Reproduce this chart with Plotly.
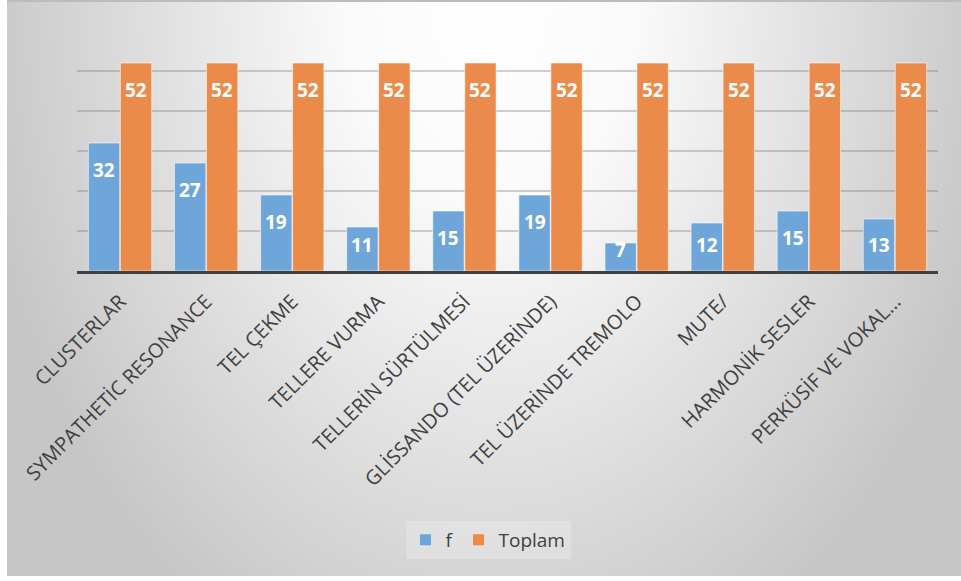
import base64
import plotly.graph_objects as go

# Techniques and counts
categories = [
    "CLUSTERLAR",
    "SYMPATHETİC RESONANCE",
    "TEL ÇEKME",
    "TELLERE VURMA",
    "TELLERİN SÜRTÜLMESİ",
    "GLİSSANDO (TEL ÜZERİNDE)",
    "TEL ÜZERİNDE TREMOLO",
    "MUTE/",
    "HARMONİK SESLER",
    "PERKÜSİF VE VOKAL…",
]
f_values = [32, 27, 19, 11, 15, 19, 7, 12, 15, 13]
toplam_values = [52, 52, 52, 52, 52, 52, 52, 52, 52, 52]
y_ticks = [0, 10, 20, 30, 40, 50, 60]

W, H = 961, 581
M_L, M_R, M_T, M_B = 77, 23, 31, 310
BLUE = "#6fa6d9"
ORANGE = "#eb8b4b"
TEXT = "#404040"
FONT = "Open Sans"

plot_w = W - M_L - M_R
plot_h = H - M_T - M_B


def px_x(px):
    return (px - M_L) / plot_w


def px_y(py):
    return (H - M_B - py) / plot_h


# Soft radial background of the chart box
svg = f"""<svg xmlns='http://www.w3.org/2000/svg' width='954' height='576' viewBox='0 0 954 576'>
<defs>
<radialGradient id='g' gradientUnits='userSpaceOnUse' cx='483' cy='0' r='520'
 gradientTransform='translate(483,0) scale(1,1.4) translate(-483,0)'>
<stop offset='0' stop-color='#ffffff'/>
<stop offset='0.28' stop-color='#fafafa'/>
<stop offset='1' stop-color='#c6c6c6'/>
</radialGradient>
</defs>
<rect x='0' y='0' width='954' height='576' fill='url(#g)'/>
<rect x='0' y='0' width='954' height='2' fill='#bcbcbc'/>
</svg>"""
svg_uri = "data:image/svg+xml;base64," + base64.b64encode(svg.encode("utf-8")).decode()

fig = go.Figure()
fig.add_trace(go.Bar(
    name="f", x=categories, y=f_values,
    marker=dict(color=BLUE, line=dict(color="rgba(255,255,255,0.55)", width=1)),
    hoverinfo="x+y",
))
fig.add_trace(go.Bar(
    name="Toplam", x=categories, y=toplam_values,
    marker=dict(color=ORANGE, line=dict(color="rgba(255,255,255,0.55)", width=1)),
    hoverinfo="x+y",
))

bargap = 0.257
bar_px = plot_w / len(categories) * (1 - bargap) / 2


def label_y(v):
    # inside-end placement, kept inside short bars
    return max(v - 6.75, min(6.5, v - 1.75))


annotations = []
for series, shift in ((f_values, -bar_px / 2), (toplam_values, bar_px / 2)):
    for cat, v in zip(categories, series):
        annotations.append(dict(
            x=cat, y=label_y(v), xref="x", yref="y", xshift=shift,
            text=f"<b>{v}</b>", showarrow=False,
            xanchor="center", yanchor="middle",
            font=dict(family=FONT, size=19, color="white"),
        ))

fig.update_layout(
    width=W, height=H, autosize=False,
    margin=dict(l=M_L, r=M_R, t=M_T, b=M_B, pad=0),
    paper_bgcolor="white",
    plot_bgcolor="rgba(0,0,0,0)",
    barmode="group",
    bargap=bargap,
    bargroupgap=0.02,
    font=dict(family=FONT, color=TEXT),
    showlegend=True,
    legend=dict(
        orientation="h", x=px_x(488), y=px_y(540),
        xanchor="center", yanchor="middle",
        bgcolor="rgba(255,255,255,0.22)",
        font=dict(family=FONT, size=19, color=TEXT),
        itemwidth=30,
    ),
    xaxis=dict(
        tickangle=-45,
        tickfont=dict(family=FONT, size=20, color=TEXT),
        showline=True, linecolor="#404040", linewidth=3,
        ticks="", showgrid=False,
        ticklabelstandoff=8,
    ),
    yaxis=dict(
        range=[0, 60], tickvals=y_ticks, showticklabels=False,
        showgrid=True, gridcolor="rgba(120,120,120,0.35)", gridwidth=2,
        zeroline=False, showline=False, ticks="",
    ),
    images=[dict(
        source=svg_uri, xref="paper", yref="paper",
        x=px_x(7), y=px_y(0), sizex=954 / plot_w, sizey=576 / plot_h,
        xanchor="left", yanchor="top", sizing="stretch", layer="below",
    )],
    annotations=annotations,
)

fig.write_html("out.html")
